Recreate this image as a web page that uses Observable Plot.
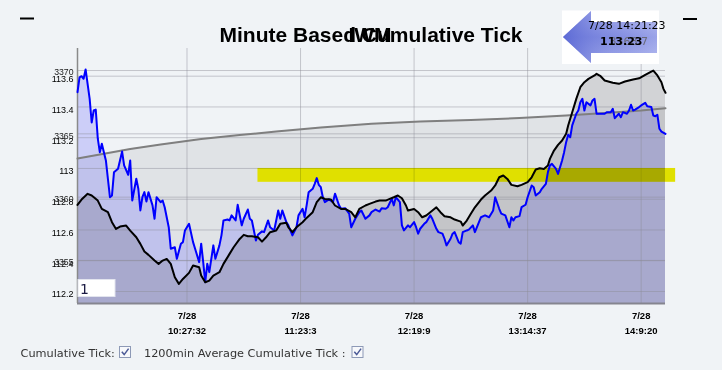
<!DOCTYPE html>
<html><head><meta charset="utf-8">
<script src="https://cdn.jsdelivr.net/npm/d3@7"></script>
<script src="https://cdn.jsdelivr.net/npm/@observablehq/plot@0.6"></script>
<style>
html,body{margin:0;padding:0;background:#f0f3f6;width:722px;height:370px;overflow:hidden;}
#wrap{position:relative;width:722px;height:370px;}
#chart{position:absolute;left:0;top:0;}
#deco{position:absolute;left:0;top:0;}
</style>
</head><body>
<div id="wrap"><div id="chart"></div>
<svg id="deco" width="722" height="370" xmlns="http://www.w3.org/2000/svg">
  <defs>
    <linearGradient id="arrowV" x1="0" y1="0" x2="0" y2="1">
      <stop offset="0" stop-color="#b4baf0"/>
      <stop offset="0.5" stop-color="#7f8ae0"/>
      <stop offset="1" stop-color="#aab1ec"/>
    </linearGradient>
    <linearGradient id="arrowH" x1="0" y1="0" x2="1" y2="0">
      <stop offset="0" stop-color="#5866d4" stop-opacity="0.9"/>
      <stop offset="0.5" stop-color="#7d88de" stop-opacity="0.3"/>
      <stop offset="1" stop-color="#c4c9f4" stop-opacity="0.4"/>
    </linearGradient>
  </defs>
  <line x1="20" y1="18.5" x2="34" y2="18.5" stroke="#000" stroke-width="2"/>
  <line x1="683" y1="19" x2="697" y2="19" stroke="#000" stroke-width="2"/>
  <g font-family="'Liberation Sans', Arial, sans-serif" font-weight="bold" font-size="21" fill="#000" text-anchor="middle">
    <text x="371" y="42">Minute Based Cumulative Tick</text>
    <text x="370" y="42">IWM</text>
  </g>
  <rect x="562" y="10.5" width="97" height="53.5" fill="#ffffff"/>
  <path d="M563,37 L591,11 L591,22 L657,22 L657,53 L591,53 L591,63 Z" fill="url(#arrowV)"/>
  <path d="M563,37 L591,11 L591,22 L657,22 L657,53 L591,53 L591,63 Z" fill="url(#arrowH)"/>
  <g font-family="'DejaVu Sans', Verdana, sans-serif" font-size="11">
    <text x="588" y="29" fill="#000">7/28 14:21:23</text>
    <text x="648" y="44.5" fill="#6a6a78" text-anchor="end">3368.7</text>
    <text x="600" y="44.5" fill="#000" font-weight="bold">113.23</text>
  </g>
  <rect x="78" y="279.5" width="37" height="17" fill="#ffffff" stroke="#e2e4ee"/>
  <text x="80" y="293.5" font-family="'DejaVu Sans', sans-serif" font-size="14" fill="#1c1c44">1</text>
  <g font-family="'DejaVu Sans', Verdana, sans-serif" font-size="11.3" fill="#333">
    <text x="20.5" y="357">Cumulative Tick:</text>
    <text x="144" y="357">1200min Average Cumulative Tick :</text>
  </g>
  <rect x="119.5" y="346.5" width="11" height="11" fill="#f7f8fb" stroke="#8d99b6"/>
  <path d="M121.8,351.8 L124.2,354.6 L128.6,348.6" fill="none" stroke="#4b5a96" stroke-width="1.5"/>
  <rect x="352" y="346.5" width="11" height="11" fill="#f7f8fb" stroke="#8d99b6"/>
  <path d="M354.3,351.8 L356.7,354.6 L361.1,348.6" fill="none" stroke="#4b5a96" stroke-width="1.5"/>
</svg>
</div>
<script>
// ---- data ----
const dateLabel = "7/28";
const xTicks = [54, 110, 166, 222, 278];
const timeLabels = ["10:27:32", "11:23:3", "12:19:9", "13:14:37", "14:9:20"];
const xDomain = [0, 290];

const priceDomain = [112.122, 113.78];
const priceTicks = [113.6, 113.4, 113.2, 113.0, 112.8, 112.6, 112.4, 112.2];
const priceLabels = ["113.6", "113.4", "113.2", "113", "112.8", "112.6", "112.4", "112.2"];

const tickDomain = [3351.6, 3371.74];
const tickTicks = [3370, 3365, 3360, 3355];
const tickLabels = ["3370", "3365", "3360", "3355"];

const priceIdx = [0,1,2,3,4,6,7,8,9,10,11,12,14,15,16,17,18,20,22,23,25,26,27,29,30,31,32,33,34,35,37,38,39,41,42,43,45,46,48,49,51,52,53,55,57,58,60,61,62,63,64,65,67,68,70,71,72,74,75,76,78,79,81,82,84,85,86,88,89,91,92,94,95,97,99,100,101,103,104,106,108,109,111,112,113,114,116,117,118,119,120,121,122,124,126,127,129,130,132,134,135,137,139,140,142,144,145,147,149,150,152,153,155,156,157,159,160,161,163,164,166,167,168,169,171,172,174,175,177,178,180,181,182,184,185,186,188,189,190,192,193,195,196,198,199,201,203,205,206,208,209,211,213,214,215,216,218,219,221,222,224,225,226,228,229,231,232,233,234,236,237,239,240,241,242,243,244,246,247,248,249,250,251,253,254,255,256,258,260,261,263,264,265,267,268,269,271,272,273,274,275,277,278,280,281,283,284,285,286,287,288,290];
const priceVal = [113.496,113.593,113.600,113.583,113.644,113.453,113.299,113.377,113.383,113.195,113.106,113.161,113.052,112.933,112.813,112.824,112.976,112.998,113.110,113.020,112.959,113.052,112.792,112.933,112.868,112.727,112.813,112.846,112.785,112.846,112.760,112.673,112.813,112.781,112.792,112.748,112.618,112.478,112.488,112.413,112.511,112.521,112.597,112.640,112.521,112.478,112.391,112.511,112.391,112.261,112.380,112.326,112.500,112.413,112.500,112.565,112.662,112.668,112.662,112.695,112.662,112.764,112.630,112.673,112.733,112.673,112.662,112.532,112.569,112.591,112.586,112.662,112.618,112.597,112.727,112.673,112.727,112.651,112.630,112.565,112.618,112.695,112.738,112.683,112.760,112.846,112.868,112.900,112.937,112.894,112.878,112.813,112.781,112.799,112.781,112.836,112.760,112.738,112.742,112.706,112.618,112.673,112.716,112.727,112.673,112.695,112.716,112.733,112.720,112.742,112.738,112.748,112.803,112.760,112.813,112.781,112.630,112.597,112.630,112.618,112.651,112.618,112.576,112.608,112.640,112.651,112.695,112.673,112.608,112.586,112.576,112.543,112.500,112.543,112.576,112.586,112.521,112.511,112.586,112.597,112.602,112.630,112.586,112.651,112.683,112.695,112.683,112.727,112.813,112.738,112.706,112.695,112.618,112.683,112.662,112.683,112.690,112.748,112.764,112.813,112.889,112.878,112.824,112.846,112.868,112.900,112.976,113.020,113.030,112.998,112.965,113.052,113.106,113.171,113.219,113.203,113.280,113.356,113.377,113.431,113.453,113.377,113.431,113.410,113.442,113.453,113.356,113.356,113.356,113.366,113.366,113.388,113.327,113.356,113.333,113.366,113.356,113.377,113.414,113.377,113.383,113.399,113.410,113.427,113.405,113.399,113.344,113.340,113.349,113.258,113.240,113.225];

const tickIdx = [0,2,5,7,10,12,15,17,19,21,24,26,29,31,33,35,38,40,42,44,46,48,50,52,55,57,60,61,63,65,67,70,72,75,77,80,82,84,86,89,91,93,95,98,100,103,104,106,108,111,113,116,118,120,122,125,127,130,132,135,137,139,142,144,147,149,152,154,156,158,160,162,163,166,168,170,172,174,177,179,181,184,186,189,190,192,194,196,199,201,204,206,208,210,212,214,217,219,222,224,226,228,230,232,233,235,237,239,241,242,244,246,248,250,252,255,256,258,260,264,267,270,274,277,280,283,284,286,288,289,290];
const tickVal = [3359.39,3359.81,3360.26,3360.13,3359.73,3359.07,3358.81,3358.02,3357.49,3357.68,3357.76,3357.36,3356.83,3356.31,3355.70,3355.44,3354.99,3354.73,3354.99,3355.12,3354.73,3353.67,3353.15,3353.54,3354.02,3354.60,3354.46,3353.81,3353.28,3353.41,3353.81,3354.07,3354.73,3355.52,3356.04,3356.70,3357.02,3356.91,3356.91,3356.83,3356.49,3356.83,3357.23,3357.36,3357.89,3357.97,3357.62,3357.23,3357.62,3358.02,3358.36,3358.81,3359.60,3359.99,3359.86,3359.81,3359.34,3359.07,3359.07,3358.81,3358.41,3359.07,3359.34,3359.47,3359.65,3359.73,3359.73,3359.86,3359.99,3360.13,3359.91,3359.34,3358.94,3359.07,3358.81,3358.41,3358.55,3358.81,3359.20,3358.81,3358.49,3358.41,3358.23,3358.07,3357.76,3358.15,3358.68,3359.20,3359.81,3360.13,3360.52,3360.92,3361.57,3361.71,3361.44,3360.97,3360.86,3360.97,3361.18,3361.57,3362.18,3362.28,3362.23,3362.50,3363.02,3363.68,3364.13,3364.47,3365.00,3365.66,3366.71,3367.76,3368.68,3369.08,3369.34,3369.61,3369.74,3369.55,3369.21,3369.03,3368.95,3369.13,3369.29,3369.39,3369.66,3369.92,3370.00,3369.61,3369.08,3368.55,3368.24];

const avgIdx = [0,11,26,41,61,80,98,120,145,169,194,218,241,264,278,290];
const avgVal = [3363.05,3363.36,3363.80,3364.15,3364.59,3364.90,3365.18,3365.50,3365.79,3365.97,3366.09,3366.25,3366.45,3366.68,3366.84,3367.02];

const bandX = [89, 295];
const bandPrice = [112.91, 113.0];

// ---- build ----
const t2p = d3.scaleLinear().domain(tickDomain).range(priceDomain);
const priceData = priceIdx.map((i, k) => ({i, v: priceVal[k]}));
const tickData = tickIdx.map((i, k) => ({i, v: t2p(tickVal[k])}));
const avgData = avgIdx.map((i, k) => ({i, v: t2p(avgVal[k])}));
const band = [{x1: bandX[0], x2: bandX[1], y1: bandPrice[0], y2: bandPrice[1]}];
const tickPos = tickTicks.map(t2p);
const base = priceDomain[0];
const gridStyle = {stroke: "#8c8c96", strokeOpacity: 0.45, strokeWidth: 1};

const chart = Plot.plot({
  width: 722, height: 340,
  marginLeft: 77, marginRight: 57, marginTop: 48, marginBottom: 37,
  style: {background: "#f0f3f6", fontFamily: "'Liberation Sans', Arial, sans-serif", overflow: "visible"},
  x: {domain: xDomain, axis: null, label: null},
  y: {domain: priceDomain, axis: null, label: null},
  marks: [
    Plot.frame({fill: "#f0f3f6", stroke: "none"}),
    Plot.areaY(avgData, {x: "i", y1: base, y2: "v", fill: "#e0e3e6"}),
    Plot.areaY(priceData, {x: "i", y1: base, y2: "v", fill: "rgb(96,96,255)", fillOpacity: 0.25}),
    Plot.areaY(tickData, {x: "i", y1: base, y2: "v", fill: "#dfdede", mixBlendMode: "multiply"}),
    Plot.ruleY(priceTicks, gridStyle),
    Plot.ruleY(tickPos, gridStyle),
    Plot.ruleX(xTicks, gridStyle),
    Plot.rect(band, {x1: "x1", x2: "x2", y1: "y1", y2: "y2", fill: "#e0e000", mixBlendMode: "darken"}),
    Plot.ruleX([xDomain[0]], {stroke: "#8a8a8a", strokeWidth: 1.5}),
    Plot.ruleY([priceDomain[0]], {stroke: "#85858f", strokeWidth: 2}),
    Plot.line(avgData, {x: "i", y: "v", stroke: "#7f7f7f", strokeWidth: 2}),
    Plot.line(priceData, {x: "i", y: "v", stroke: "#0000ff", strokeWidth: 2}),
    Plot.line(tickData, {x: "i", y: "v", stroke: "#000000", strokeWidth: 2}),
    Plot.axisY(priceTicks, {anchor: "left", tickSize: 0, tickPadding: 4, dy: 3, fontSize: 9, fill: "#000", label: null,
      tickFormat: d => priceLabels[priceTicks.indexOf(d)]}),
    Plot.axisY(tickPos, {anchor: "left", tickSize: 0, tickPadding: 4, dy: 2, fontSize: 8.7, fill: "#1a1a1a", label: null,
      tickFormat: d => tickLabels[tickPos.indexOf(d)]}),
    Plot.axisX(xTicks, {anchor: "bottom", tickSize: 0, tickPadding: 9, fontSize: 9.5, fontWeight: "bold", fill: "#000", label: null,
      tickFormat: () => dateLabel}),
    Plot.axisX(xTicks, {anchor: "bottom", tickSize: 0, tickPadding: 24, fontSize: 9.5, fontWeight: "bold", fill: "#000", label: null,
      tickFormat: d => timeLabels[xTicks.indexOf(d)]})
  ]
});
document.getElementById("chart").appendChild(chart);
// ensure blend modes are applied even if the option is not supported
const areas = chart.querySelectorAll('g[aria-label="area"]');
if (areas.length >= 3) areas[2].style.mixBlendMode = "multiply";
const rects = chart.querySelectorAll('g[aria-label="rect"]');
rects.forEach(r => r.style.mixBlendMode = "darken");
</script>
</body></html>
